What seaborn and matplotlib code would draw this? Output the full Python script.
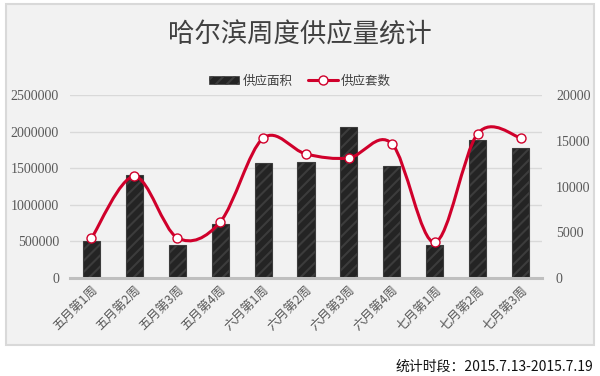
import numpy as np
import pandas as pd
import matplotlib
matplotlib.use("Agg")
import matplotlib.pyplot as plt
import seaborn as sns
from matplotlib.path import Path
from matplotlib.patches import PathPatch, Rectangle, Patch
from matplotlib.lines import Line2D

categories = ["五月第1周", "五月第2周", "五月第3周", "五月第4周",
              "六月第1周", "六月第2周", "六月第3周", "六月第4周",
              "七月第1周", "七月第2周", "七月第3周"]
area = [500000, 1410000, 447000, 742000, 1575000, 1580000,
        2067000, 1530000, 451000, 1881000, 1780000]
units = [4340, 11100, 4400, 6120, 15270, 13550, 13120, 14680, 3900, 15770, 15330]
left_ticks = [0, 500000, 1000000, 1500000, 2000000, 2500000]
right_ticks = [0, 5000, 10000, 15000, 20000]
title = "哈尔滨周度供应量统计"
legend_labels = ["供应面积", "供应套数"]
footer = "统计时段：2015.7.13-2015.7.19"

sns.set_theme(style="white")
plt.rcParams['font.family'] = ['Noto Sans CJK SC', 'DejaVu Sans']
plt.rcParams['hatch.linewidth'] = 1.5

RED = "#d0002b"
BAR = "#242424"
HATCH = "#3c3c3c"
TICK = "#595959"

fig = plt.figure(figsize=(6, 3.76), dpi=100)
fig.patch.set_facecolor("white")
W, H = 600, 376

# panel
fig.patches.append(Rectangle((6 / W, 1 - 345 / H), 588 / W, 341 / H,
                             transform=fig.transFigure, facecolor="#f2f2f2",
                             edgecolor="#d9d9d9", linewidth=1.5, zorder=-10))

ax = fig.add_axes([70 / W, 1 - 278 / H, 472 / W, 183 / H])
ax.set_facecolor("none")
df = pd.DataFrame({"cat": categories, "area": area, "units": units})
sns.barplot(data=df, x="cat", y="area", ax=ax, color=BAR, width=0.4,
            saturation=1, edgecolor=HATCH, linewidth=0.8, zorder=2)
for p in ax.patches:
    p.set_hatch("///")
    p.set_facecolor(BAR)
    p.set_edgecolor(HATCH)

ax.set_ylim(0, 2500000)
ax.set_xlim(-0.5, len(categories) - 0.5)
ax.set_yticks(left_ticks)
ax.set_yticklabels([str(v) for v in left_ticks], family="Liberation Serif",
                   fontsize=10, color=TICK)
ax.set_xticks(range(len(categories)))
ax.set_xticklabels(categories, rotation=45, ha="right", rotation_mode="anchor",
                   fontsize=9, color=TICK)
ax.yaxis.grid(True, color="#d9d9d9", linewidth=1, zorder=0)
ax.set_axisbelow(True)
ax.set_xlabel("")
ax.set_ylabel("")
for s in ["top", "left", "right"]:
    ax.spines[s].set_visible(False)
ax.spines["bottom"].set_color("#bfbfbf")
ax.spines["bottom"].set_linewidth(2.2)
ax.spines["bottom"].set_zorder(3)
ax.tick_params(axis="both", length=0, pad=4)
ax.tick_params(axis="y", pad=8)

ax2 = ax.twinx()
ax2.set_ylim(0, 20000)
ax2.set_yticks(right_ticks)
ax2.set_yticklabels([str(v) for v in right_ticks], family="Liberation Serif",
                    fontsize=10, color=TICK)
ax2.tick_params(axis="y", length=0, pad=10)
for s in ["top", "left", "right", "bottom"]:
    ax2.spines[s].set_visible(False)
ax2.grid(False)

# smoothed line (Catmull-Rom as cubic Bezier)
xs = np.arange(len(units), dtype=float)
ys = np.array(units, dtype=float)
pts = np.column_stack([xs, ys])
verts = [tuple(pts[0])]
codes = [Path.MOVETO]
n = len(pts)
for i in range(n - 1):
    p0 = pts[max(i - 1, 0)]
    p1 = pts[i]
    p2 = pts[i + 1]
    p3 = pts[min(i + 2, n - 1)]
    c1 = p1 + (p2 - p0) / 6.0
    c2 = p2 - (p3 - p1) / 6.0
    verts += [tuple(c1), tuple(c2), tuple(p2)]
    codes += [Path.CURVE4] * 3
ax2.add_patch(PathPatch(Path(verts, codes), facecolor="none", edgecolor=RED,
                        linewidth=2.2, zorder=3, capstyle="round"))
sns.scatterplot(x=xs, y=ys, ax=ax2, s=42, color="white", edgecolor=RED,
                linewidth=1.0, zorder=4, legend=False)

# legend
handles = [Patch(facecolor=BAR, edgecolor=HATCH, hatch="///", linewidth=0.5),
           Line2D([0], [0], color=RED, linewidth=2.2, marker="o", markersize=6.5,
                  markerfacecolor="white", markeredgecolor=RED)]
fig.legend(handles, legend_labels, loc="center", bbox_to_anchor=(0.5, 1 - 81 / H),
           ncol=2, frameon=False, fontsize=9, handlelength=2.4, handleheight=0.6,
           columnspacing=1.2, handletextpad=0.3, labelcolor="#404040")

fig.text(0.5, 1 - 35 / H, title, ha="center", va="center", fontsize=19,
         color="#404040", fontweight="light")
fig.text(593 / W, 1 - 367 / H, footer, ha="right", va="center", fontsize=10,
         color="#111111")

fig.savefig("out.png", dpi=100)
